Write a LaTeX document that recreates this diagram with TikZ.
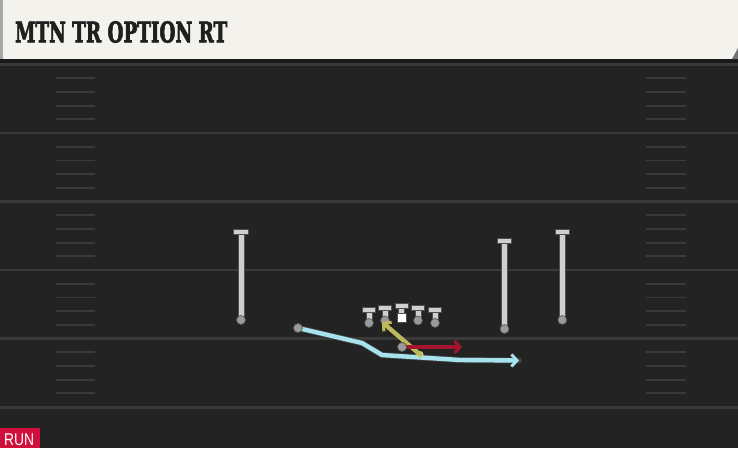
\documentclass[tikz,border=0pt]{standalone}
\usepackage{fontspec}
\usetikzlibrary{arrows.meta}
\newfontfamily\titlefont{DejaVu Serif}[BoldFeatures={FakeBold=3}]
\newfontfamily\tagfont{Liberation Sans}
\definecolor{fieldc}{HTML}{232323}
\definecolor{titlec}{HTML}{F4F2EC}
\definecolor{yardc}{HTML}{3A3A3A}
\definecolor{hashc}{HTML}{3A3A3A}
\definecolor{plfill}{HTML}{CFCFCF}
\definecolor{ploutline}{HTML}{505050}
\definecolor{dotgray}{HTML}{9A9A9A}
\definecolor{bluer}{HTML}{A6E3EE}
\definecolor{yellowr}{HTML}{BDB95A}
\definecolor{redr}{HTML}{A3152F}
\definecolor{runred}{HTML}{D0103A}
\tikzset{
  yard/.style={draw=yardc, line width=2.2pt},
  hashm/.style={draw=hashc, line width=1.8pt},
  plshape/.style={fill=plfill, draw=ploutline, line width=0.9pt},
  pdot/.style={circle, fill=dotgray, draw=ploutline, line width=0.6pt, inner sep=0pt, minimum size=9pt},
  hdot/.style={circle, fill=yellowr!70!white, inner sep=0pt, minimum size=7pt},
  routeback/.style={line width=6pt, draw=black!75, line cap=round, line join=round},
  route/.style={line width=4.4pt, line cap=round, line join=round, -{Straight Barb[length=5.5pt,width=12pt,line width=3pt]}},
}
% name, x, ytop, ybottom, crossbar half width
\newcommand\playerT[5]{%
  \path[plshape] (#2-3,#3) rectangle (#2+3,#4);
  \path[plshape] (#2-#5,#3) rectangle (#2+#5,#3+5);
  \node[pdot] (#1) at (#2,#4) {};
}
\begin{document}
\begin{tikzpicture}[x=1pt,y=-1pt]
\useasboundingbox (0,0) rectangle (738,448);
\fill[fieldc] (0,0) rectangle (738,448);
% yard lines
\foreach \y in {64.5,133,201.5,270,338.5,407.5}
  \draw[yard] (0,\y) -- (738,\y);
% hash marks
\foreach \y in {64.5,133,201.5,270,338.5}
  \foreach \k in {1,2,3,4} {
    \draw[hashm] (56,\y+13.7*\k) -- (95,\y+13.7*\k);
    \draw[hashm] (646,\y+13.7*\k) -- (686,\y+13.7*\k);
  }
% title bar
\fill[black!90] (0,58) rectangle (738,63);
\fill[titlec] (0,0) rectangle (738,59);
\fill[black!35] (0,0) rectangle (3,59);
\fill[black!55] (732,59) -- (738,48) -- (738,59) -- cycle;
\node[anchor=base west, inner sep=0pt, text=black!88] (title) at (15,42.3)
  {\resizebox{212pt}{21pt}{\titlefont\bfseries MTN TR OPTION RT}};
% run tag
\fill[runred] (0,428) rectangle (40,448);
\node[anchor=base west, inner sep=0pt, text=white] (runtag) at (4,445)
  {\resizebox{30pt}{11.7pt}{\tagfont RUN}};
% receivers
\playerT{wrl}{241}{229}{320}{7.5}
\playerT{wrr}{504.5}{238.5}{329}{7}
\playerT{wrrr}{562.3}{229}{320}{7}
% offensive line
\playerT{lt}{369}{307.5}{323}{6.5}
\playerT{lg}{385}{305.5}{320.5}{6.5}
\path[plshape] (398.7,303.5) rectangle (404.7,314);
\path[plshape] (395.2,303.5) rectangle (408.2,308.5);
\node[fill=white, draw=ploutline, line width=0.6pt, minimum size=9pt, inner sep=0pt] (c) at (401.7,318) {};
\playerT{rg}{418}{305.5}{320.5}{6.5}
\playerT{rt}{435}{307.5}{323}{6.5}
% backs
\coordinate (b1) at (362,343);
\coordinate (b2) at (382,355);
\coordinate (b3) at (460,360);
\coordinate (bend) at (519,360.5);
\coordinate (rend) at (462,347);
\coordinate (yend) at (382,322);
\coordinate (hp) at (420,354.5);
% blue route
\node[pdot] (rb) at (298,328) {};
\draw[routeback] (rb.center) -- (b1) -- (b2) -- (b3) -- (bend);
\draw[route, draw=bluer] (rb.center) -- (b1) -- (b2) -- (b3) -- (bend);
\node[pdot] at (298,328) {};
% yellow route
\node[hdot] (hand) at (hp) {};
\draw[route, draw=yellowr] (hand.center) -- (yend);
% red route
\node[pdot] (qb) at (402,347) {};
\draw[route, draw=redr] (qb.center) -- (rend);
\node[pdot] at (402,347) {};
\end{tikzpicture}
\end{document}
